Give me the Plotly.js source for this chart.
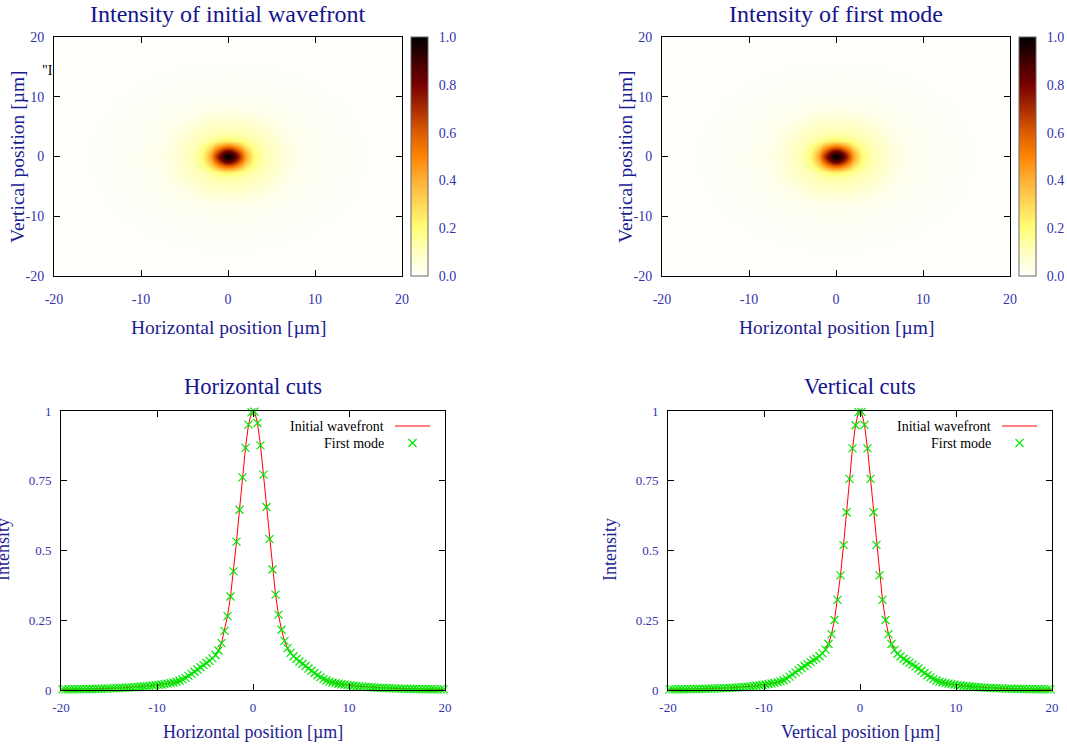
<!DOCTYPE html>
<html>
<head>
<meta charset="utf-8">
<script src="https://cdn.plot.ly/plotly-3.0.1.min.js"></script>
<style>
  html, body { margin: 0; padding: 0; background: #ffffff; }
  #chart { width: 1067px; height: 748px; }
</style>
</head>
<body>
<div id="chart"></div>
<script>
// Sampling grid of the wavefront mesh (µm): first sample centre and spacing
const gridStart = -19.84375;
const gridStep = 0.3125;

// Horizontal cut through the beam centre (normalised intensity)
const horizontalCut = [
  0.0022, 0.0023, 0.0024, 0.0025, 0.0026, 0.0027, 0.0029, 0.0031, 0.0033, 0.0035, 0.0037, 0.004,
  0.0043, 0.0046, 0.0049, 0.0053, 0.0057, 0.0061, 0.0066, 0.0071, 0.0077, 0.0083, 0.0089, 0.0095,
  0.0102, 0.011, 0.0118, 0.0127, 0.0137, 0.0148, 0.016, 0.0172, 0.0185, 0.0198, 0.0212, 0.0228,
  0.0246, 0.0268, 0.0296, 0.0332, 0.0378, 0.0437, 0.0505, 0.0578, 0.0655, 0.0735, 0.0815, 0.0893,
  0.0968, 0.1045, 0.1135, 0.1255, 0.1415, 0.168, 0.212, 0.265, 0.335, 0.425, 0.532, 0.646,
  0.762, 0.868, 0.951, 0.995,
  0.998, 0.957, 0.877, 0.772, 0.656, 0.541, 0.432, 0.342, 0.27, 0.216, 0.176, 0.15,
  0.133, 0.121, 0.111, 0.102, 0.094, 0.086, 0.077, 0.069, 0.061, 0.053, 0.046, 0.039,
  0.034, 0.03, 0.027, 0.0245, 0.0225, 0.0207, 0.0191, 0.0177, 0.0164, 0.0152, 0.0141, 0.0131,
  0.0121, 0.0112, 0.0104, 0.0097, 0.009, 0.0084, 0.0078, 0.0073, 0.0068, 0.0063, 0.0059, 0.0055,
  0.0051, 0.0048, 0.0045, 0.0042, 0.0039, 0.0037, 0.0035, 0.0033, 0.0031, 0.0029, 0.0027, 0.0026,
  0.0024, 0.0023, 0.0022, 0.0021
];

// Vertical cut through the beam centre (normalised intensity)
const verticalCut = [
  0.0022, 0.0023, 0.0024, 0.0025, 0.0027, 0.0028, 0.003, 0.0032, 0.0034, 0.0036, 0.0038, 0.0041,
  0.0044, 0.0047, 0.005, 0.0053, 0.0057, 0.0061, 0.0065, 0.007, 0.0075, 0.0081, 0.0087, 0.0094,
  0.0102, 0.011, 0.0119, 0.0129, 0.014, 0.0152, 0.0165, 0.018, 0.0196, 0.0215, 0.0235, 0.0255,
  0.028, 0.031, 0.035, 0.041, 0.048, 0.056, 0.063, 0.071, 0.079, 0.086, 0.093, 0.1,
  0.107, 0.113, 0.121, 0.131, 0.145, 0.165, 0.2, 0.251, 0.323, 0.411, 0.519, 0.637,
  0.757, 0.866, 0.949, 0.996,
  0.997, 0.95, 0.866, 0.757, 0.637, 0.52, 0.411, 0.323, 0.251, 0.2, 0.165, 0.144,
  0.13, 0.12, 0.112, 0.105, 0.098, 0.091, 0.084, 0.077, 0.069, 0.061, 0.053, 0.046,
  0.039, 0.034, 0.03, 0.027, 0.0248, 0.0228, 0.021, 0.0192, 0.0176, 0.0162, 0.0149, 0.0137,
  0.0126, 0.0116, 0.0107, 0.0099, 0.0092, 0.0085, 0.0079, 0.0074, 0.0069, 0.0064, 0.006, 0.0056,
  0.0052, 0.0049, 0.0046, 0.0043, 0.004, 0.0038, 0.0036, 0.0034, 0.0032, 0.003, 0.0028, 0.0026,
  0.0025, 0.0024, 0.0023, 0.0022
];

// Tick values and labels
const positionTicks = [-20, -10, 0, 10, 20];
const intensityTicks = [0, 0.25, 0.5, 0.75, 1];
const intensityTickLabels = ['0', '0.25', '0.5', '0.75', '1'];
const colorbarTicks = [0, 0.2, 0.4, 0.6, 0.8, 1];
const colorbarTickLabels = ['0.0', '0.2', '0.4', '0.6', '0.8', '1.0'];

// Text
const mapTitles = ['Intensity of initial wavefront', 'Intensity of first mode'];
const cutTitles = ['Horizontal cuts', 'Vertical cuts'];
const horizontalLabel = 'Horizontal position [µm]';
const verticalLabel = 'Vertical position [µm]';
const intensityLabel = 'Intensity';
const seriesNames = ['Initial wavefront', 'First mode'];

// 2-D intensity map assembled from the two central cuts: along each direction
// the profile of the matching cut is followed, blended by the angle around the centre.
const half = horizontalCut.length / 2;
function profileAt(cut, r, positive) {
  // value of one half of a cut at distance r from the centre
  const k = Math.max(0, r / gridStep - 0.5);
  const i0 = Math.min(Math.floor(k), half - 1);
  const i1 = Math.min(i0 + 1, half - 1);
  const t = Math.min(k - i0, 1);
  const idx = j => positive ? half + j : half - 1 - j;
  return cut[idx(i0)] * (1 - t) + cut[idx(i1)] * t;
}
const intensityMap = verticalCut.map((_, iy) => horizontalCut.map((__, ix) => {
  const x = gridStart + ix * gridStep;
  const y = gridStart + iy * gridStep;
  const r2 = x * x + y * y;
  const r = Math.sqrt(r2);
  const hx = profileAt(horizontalCut, r, x >= 0);
  const vy = profileAt(verticalCut, r, y >= 0);
  return (x * x * hx + y * y * vy) / r2;
}));

// ---------- styling ----------
const W = 1067, H = 748;
const fx = p => p / W;
const fy = p => 1 - p / H;

const SERIF = '"Liberation Serif", "Times New Roman", serif';
const TITLE_COLOR = '#14148c';
const LABEL_COLOR = '#1c1c90';
const TICK_COLOR = '#3434a8';
const LINE_RED = '#ff0000';
const MARK_GREEN = '#00e600';

const heatScale = [
  [0.0, '#fffffd'], [0.1, '#ffffc2'], [0.2, '#ffff78'], [0.3, '#ffd858'],
  [0.4, '#ffb038'], [0.5, '#ff8400'], [0.6, '#dc5c00'], [0.7, '#a82c00'],
  [0.8, '#780000'], [0.9, '#400000'], [1.0, '#000000']
];

function frameAxis(domain, anchor, tickSize, standoff, extra) {
  return Object.assign({
    domain: domain,
    anchor: anchor,
    showline: true, linecolor: '#000000', linewidth: 1, mirror: 'ticks',
    ticks: 'inside', ticklen: 6, tickwidth: 1, tickcolor: '#000000',
    showgrid: false, zeroline: false,
    tickfont: { family: SERIF, size: tickSize, color: TICK_COLOR },
    ticklabelstandoff: standoff,
    fixedrange: true
  }, extra);
}

const mapBoxes = [
  { x: [54, 402], y: [37, 276], bar: 411 },
  { x: [662, 1010], y: [37, 276], bar: 1019 }
];
const cutBoxes = [
  { x: [61, 445], y: [411, 690] },
  { x: [668, 1052], y: [411, 690] }
];
const BAR_W = 17;

const layout = {
  width: W, height: H,
  margin: { l: 0, r: 0, t: 0, b: 0, autoexpand: false },
  paper_bgcolor: '#ffffff', plot_bgcolor: '#ffffff',
  showlegend: false,
  font: { family: SERIF },
  annotations: [],
  shapes: []
};

const traces = [];

// Intensity maps
mapBoxes.forEach((b, i) => {
  const n = i + 1;
  layout['xaxis' + n] = frameAxis([fx(b.x[0]), fx(b.x[1])], 'y' + n, 14, 10,
    { range: [-20, 20], tickvals: positionTicks, ticktext: positionTicks.map(String) });
  layout['yaxis' + n] = frameAxis([fy(b.y[1]), fy(b.y[0])], 'x' + n, 14, 6,
    { range: [-20, 20], tickvals: positionTicks, ticktext: positionTicks.map(String) });
  traces.push({
    type: 'heatmap',
    z: intensityMap,
    x0: gridStart, dx: gridStep,
    y0: gridStart, dy: gridStep,
    xaxis: 'x' + n, yaxis: 'y' + n,
    colorscale: heatScale,
    zmin: 0, zmax: 1,
    zsmooth: 'best',
    hoverinfo: 'skip',
    colorbar: {
      x: fx(b.bar), xanchor: 'left',
      y: fy((b.y[0] + b.y[1]) / 2), yanchor: 'middle',
      len: b.y[1] - b.y[0], lenmode: 'pixels',
      thickness: BAR_W, thicknessmode: 'pixels',
      xpad: 0, ypad: 0,
      outlinewidth: 1, outlinecolor: '#666666',
      tickvals: colorbarTicks, ticktext: colorbarTickLabels,
      ticks: 'outside', ticklen: 8, tickcolor: 'rgba(0,0,0,0)',
      tickfont: { family: SERIF, size: 14, color: TICK_COLOR }
    }
  });
  // dashed tic marks across the colour box
  colorbarTicks.slice(1, -1).forEach(t => {
    const yp = b.y[1] - t * (b.y[1] - b.y[0]);
    layout.shapes.push({
      type: 'line', xref: 'paper', yref: 'paper',
      x0: fx(b.bar), x1: fx(b.bar + BAR_W), y0: fy(yp), y1: fy(yp),
      line: { color: '#000000', width: 1, dash: '6px,2px' }
    });
  });

  const cx = (b.x[0] + b.x[1]) / 2;
  layout.annotations.push({
    text: mapTitles[i], xref: 'paper', yref: 'paper', x: fx(cx), y: fy(0),
    xanchor: 'center', yanchor: 'top', showarrow: false, borderpad: 0,
    font: { family: SERIF, size: 24, color: TITLE_COLOR }
  });
  layout.annotations.push({
    text: horizontalLabel, xref: 'paper', yref: 'paper', x: fx(cx), y: fy(327),
    xanchor: 'center', yanchor: 'middle', showarrow: false,
    font: { family: SERIF, size: 19.5, color: LABEL_COLOR }
  });
  layout.annotations.push({
    text: verticalLabel, xref: 'paper', yref: 'paper', x: fx(b.x[0] - 37), y: fy(157),
    xanchor: 'center', yanchor: 'middle', textangle: -90, showarrow: false,
    font: { family: SERIF, size: 19.5, color: LABEL_COLOR }
  });
});

// Stray key fragment left of the first map
layout.annotations.push({
  text: '"I', xref: 'paper', yref: 'paper', x: fx(55), y: fy(70),
  xanchor: 'right', yanchor: 'middle', showarrow: false,
  font: { family: SERIF, size: 14, color: '#000000' }
});

// Central cuts
const cutData = [horizontalCut, verticalCut];
const cutLabels = [horizontalLabel, verticalLabel];
cutBoxes.forEach((b, i) => {
  const n = i + 3;
  layout['xaxis' + n] = frameAxis([fx(b.x[0]), fx(b.x[1])], 'y' + n, 13, 5,
    { range: [-20, 20], tickvals: positionTicks, ticktext: positionTicks.map(String) });
  layout['yaxis' + n] = frameAxis([fy(b.y[1]), fy(b.y[0])], 'x' + n, 13, 6,
    { range: [0, 1], tickvals: intensityTicks, ticktext: intensityTickLabels });
  traces.push({
    type: 'scatter', mode: 'lines', name: seriesNames[0],
    y: cutData[i], x0: gridStart, dx: gridStep,
    xaxis: 'x' + n, yaxis: 'y' + n,
    line: { color: LINE_RED, width: 1 },
    cliponaxis: false, hoverinfo: 'skip'
  });
  traces.push({
    type: 'scatter', mode: 'markers', name: seriesNames[1],
    y: cutData[i], x0: gridStart, dx: gridStep,
    xaxis: 'x' + n, yaxis: 'y' + n,
    marker: { symbol: 'x-thin', size: 8, line: { color: MARK_GREEN, width: 1.2 } },
    cliponaxis: false, hoverinfo: 'skip'
  });

  const cx = (b.x[0] + b.x[1]) / 2;
  layout.annotations.push({
    text: cutTitles[i], xref: 'paper', yref: 'paper', x: fx(cx), y: fy(387),
    xanchor: 'center', yanchor: 'middle', showarrow: false,
    font: { family: SERIF, size: 22.5, color: TITLE_COLOR }
  });
  layout.annotations.push({
    text: cutLabels[i], xref: 'paper', yref: 'paper', x: fx(cx), y: fy(732),
    xanchor: 'center', yanchor: 'middle', showarrow: false,
    font: { family: SERIF, size: 18, color: LABEL_COLOR }
  });
  layout.annotations.push({
    text: intensityLabel, xref: 'paper', yref: 'paper', x: fx(b.x[0] - 58), y: fy(550),
    xanchor: 'center', yanchor: 'middle', textangle: -90, showarrow: false,
    font: { family: SERIF, size: 18, color: LABEL_COLOR }
  });

  // Key: text on the left, sample on the right
  const keyRight = b.x[1] - 59;
  const rows = [427, 443];
  seriesNames.forEach((name, k) => {
    layout.annotations.push({
      text: name, xref: 'paper', yref: 'paper', x: fx(keyRight), y: fy(rows[k]),
      xanchor: 'right', yanchor: 'middle', showarrow: false,
      font: { family: SERIF, size: 14, color: '#000000' }
    });
  });
  const sx0 = keyRight + 9, sx1 = keyRight + 44, sc = (sx0 + sx1) / 2;
  layout.shapes.push({
    type: 'line', xref: 'paper', yref: 'paper',
    x0: fx(sx0), x1: fx(sx1), y0: fy(rows[0] - 1), y1: fy(rows[0] - 1),
    line: { color: LINE_RED, width: 1 }
  });
  layout.shapes.push({
    type: 'line', xref: 'paper', yref: 'paper',
    x0: fx(sc - 4), x1: fx(sc + 4), y0: fy(rows[1] - 4), y1: fy(rows[1] + 4),
    line: { color: MARK_GREEN, width: 1.2 }
  });
  layout.shapes.push({
    type: 'line', xref: 'paper', yref: 'paper',
    x0: fx(sc - 4), x1: fx(sc + 4), y0: fy(rows[1] + 4), y1: fy(rows[1] - 4),
    line: { color: MARK_GREEN, width: 1.2 }
  });
});

Plotly.newPlot('chart', traces, layout, { staticPlot: true, displayModeBar: false });
</script>
</body>
</html>
